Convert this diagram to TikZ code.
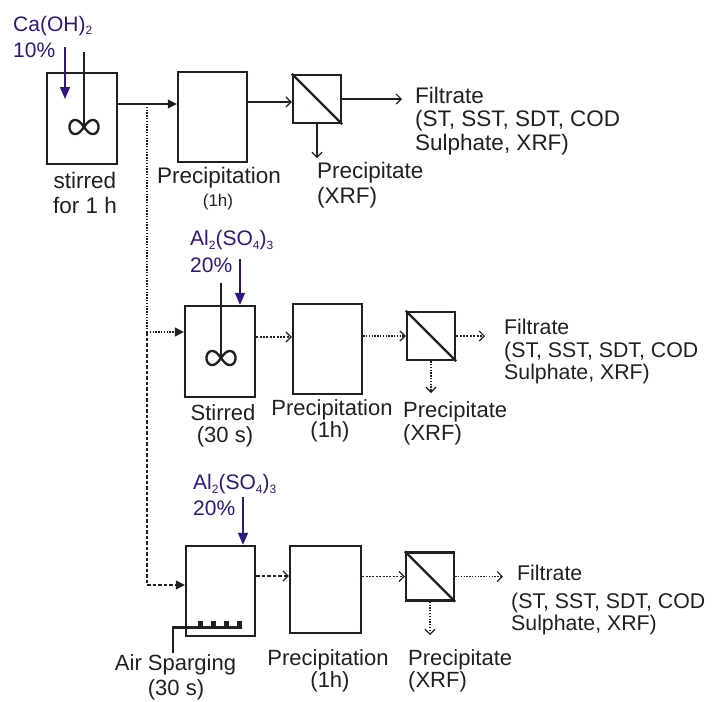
\documentclass[tikz,border=0pt]{standalone}
\usepackage{fontspec}
\setmainfont{Liberation Sans}
\usetikzlibrary{arrows.meta,calc}
\definecolor{ink}{RGB}{35,31,32}
\definecolor{vio}{RGB}{48,22,125}
\newcommand{\sbs}[1]{\raisebox{-3.5pt}{\fontsize{12}{12}\selectfont #1}}
\begin{document}
\begin{tikzpicture}[x=1pt,y=-1pt,
  tank/.style={draw=ink, line width=2.4pt, minimum width=70pt, minimum height=91pt, inner sep=0pt},
  filt/.style={draw=ink, line width=2.4pt, minimum size=48pt, inner sep=0pt,
     append after command={(\tikzlastnode.north west) edge[draw=ink, line width=2.4pt] (\tikzlastnode.south east)}},
  t/.style={font=\fontsize{22.5}{24}\selectfont, text height=16pt, text depth=0pt, inner sep=0pt, text=ink},
  tm/.style={t, font=\fontsize{22}{24}\selectfont, text height=15.8pt},
  tf/.style={t, font=\fontsize{21.3}{24}\selectfont, text height=15.3pt},
  ts/.style={font=\fontsize{17}{19}\selectfont, text height=12.2pt, text depth=0pt, inner sep=0pt, text=ink},
  tv/.style={font=\fontsize{21}{24}\selectfont, text height=15pt, text depth=0pt, inner sep=0pt, text=vio},
  openarr/.style={draw=ink, line width=1.2pt, -{Straight Barb[length=5pt,width=10pt]}},
  fillarr/.style={draw=ink, line width=1.2pt, -{Triangle[length=9pt,width=9pt]}},
  vioarr/.style={draw=vio, line width=1.6pt, -{Triangle[length=12pt,width=10pt]}},
  dotl/.style={dash pattern=on 1.3pt off 1.5pt},
  finel/.style={dash pattern=on 2pt off 1.4pt},
  dashl/.style={dash pattern=on 3.5pt off 2pt},
  shaft/.style={draw=ink, line width=2.4pt},
  inf/.pic={\draw[ink, line width=2.4pt] plot[domain=0:360,samples=121]
     ({14.5*cos(\x)/(1+sin(\x)*sin(\x))},{19.8*sin(\x)*cos(\x)/(1+sin(\x)*sin(\x))});}
]
\useasboundingbox (0,0) rectangle (713,702);

% ---------- Row 1 ----------
\node[tank] (tank1) at (82,118.5) {};
\node[tank, minimum width=69pt, minimum height=90pt] (prec1) at (212.5,117) {};
\node[filt] (filt1) at (317,99) {};

\draw[shaft] (84,52) -- (84,127);
\pic at (84,127) {inf};

\node[tv, anchor=west] (ca) at (13,23.5) {Ca(OH)\sbs{2}};
\node[tv, anchor=west] (ca10) at (13,50) {10\%};
\coordinate (cas) at (65,47);
\coordinate (cae) at (65,99);
\draw[vioarr] (cas) -- (cae);

\node[t] (st1) at (85,180) {stirred};
\node[t] (st1b) at (85,205) {for 1 h};
\node[t] (pr1) at (219,175) {Precipitation};
\node[ts] (pr1b) at (218,200) {(1h)};
\node[t, anchor=west] (pp1) at (317,170) {Precipitate};
\node[t, anchor=west] (pp1b) at (317,195) {(XRF)};
\node[t, anchor=west] (fl1) at (415,95) {Filtrate};
\node[t, anchor=west] (fl1b) at (415,118) {(ST, SST, SDT, COD};
\node[t, anchor=west] (fl1c) at (415,142) {Sulphate, XRF)};

\coordinate (t1o) at ([yshift=14.5pt]tank1.east);
\draw[fillarr] (t1o) -- (t1o -| prec1.west);
\coordinate (p1o) at ([yshift=15pt]prec1.east);
\draw[openarr] (p1o) -- (p1o -| filt1.west);
\coordinate (f1e) at (402,99);
\draw[openarr] (filt1.east) -- (f1e);
\coordinate (q1e) at (317,158);
\draw[openarr] (filt1.south) -- (q1e);

% ---------- branch ----------
\coordinate (br1) at (147,104);
\coordinate (br2) at (147,332);
\coordinate (br3) at (147,585);
\draw[draw=ink, line width=1.1pt, dotl] (br1) -- (br2);
\draw[draw=ink, line width=1.1pt, dashl] (br2) -- (br3);

% ---------- Row 2 ----------
\node[tank] (tank2) at (220,351.5) {};
\node[tank, minimum width=69pt, minimum height=90pt] (prec2) at (327.5,349) {};
\node[filt] (filt2) at (431,336) {};

\draw[shaft] (221,283) -- (221,358);
\pic at (221,358) {inf};

\node[tv, anchor=west] (al2) at (190,238) {Al\sbs{2}(SO\sbs{4})\sbs{3}};
\node[tv, anchor=west] (al2b) at (190,265) {20\%};
\coordinate (a2s) at (240,259);
\draw[vioarr] (a2s) -- (a2s |- tank2.north);

\draw[fillarr, dotl] (br2) -- (br2 -| tank2.west);

\node[tm] (st2) at (223,413) {Stirred};
\node[tm] (st2b) at (225,435) {(30 s)};
\node[tm] (pr2) at (332,408) {Precipitation};
\node[tm] (pr2b) at (330,430) {(1h)};
\node[tm, anchor=west] (pp2) at (403,410) {Precipitate};
\node[tm, anchor=west] (pp2b) at (403,433) {(XRF)};
\node[tf, anchor=west] (fl2) at (504,327) {Filtrate};
\node[tf, anchor=west] (fl2b) at (504,350) {(ST, SST, SDT, COD};
\node[tf, anchor=west] (fl2c) at (504,372) {Sulphate, XRF)};

\coordinate (t2o) at ([yshift=14.5pt]tank2.east);
\draw[openarr, finel] (t2o) -- (t2o -| prec2.west);
\draw[openarr, dotl] (filt2.west -| prec2.east) -- (filt2.west);
\coordinate (f2e) at (485,336);
\draw[openarr, finel] (filt2.east) -- (f2e);
\coordinate (q2e) at (431,393);
\draw[openarr, dotl] (filt2.south) -- (q2e);

% ---------- Row 3 ----------
\node[tank, minimum width=69pt, minimum height=90pt] (tank3) at (220.5,591) {};
\node[tank, minimum width=71pt, minimum height=87pt] (prec3) at (325.5,589.5) {};
\node[filt] (filt3) at (430,576.5) {};

\node[tv, anchor=west] (al3) at (193,482) {Al\sbs{2}(SO\sbs{4})\sbs{3}};
\node[tv, anchor=west] (al3b) at (193,508) {20\%};
\coordinate (a3s) at (243,497);
\draw[vioarr] (a3s) -- (a3s |- tank3.north);

\draw[fillarr, dashl] (br3) -- (br3 -| tank3.west);

% sparger
\draw[draw=ink, line width=2.2pt] (173,653) -- (173,627.5) -- (241.5,627.5);
\draw[draw=ink, line width=2.8pt] (173,627.5) -- (241.5,627.5);
\foreach \bx in {197.5,210.5,223.5,236.5}{
  \fill[ink] (\bx,621) rectangle ++(5,6);
}

\node[tm] (sp3) at (175.5,663) {Air Sparging};
\node[tm] (sp3b) at (176,688) {(30 s)};
\node[tm] (pr3) at (328,658) {Precipitation};
\node[tm] (pr3b) at (330,680) {(1h)};
\node[tm, anchor=west] (pp3) at (408,658) {Precipitate};
\node[tm, anchor=west] (pp3b) at (408,680) {(XRF)};
\node[tf, anchor=west] (fl3) at (517,573) {Filtrate};
\node[tf, anchor=west] (fl3b) at (511,601) {(ST, SST, SDT, COD};
\node[tf, anchor=west] (fl3c) at (511,623) {Sulphate, XRF)};

\coordinate (t3o) at ([yshift=15pt]tank3.east);
\draw[openarr, dashl] (t3o) -- (t3o -| prec3.west);
\draw[openarr, finel] (filt3.west -| prec3.east) -- (filt3.west);
\coordinate (f3e) at (503,576.5);
\draw[openarr, dotl] (filt3.east) -- (f3e);
\coordinate (q3e) at (430,635);
\draw[openarr, dotl] (filt3.south) -- (q3e);
\end{tikzpicture}
\end{document}
